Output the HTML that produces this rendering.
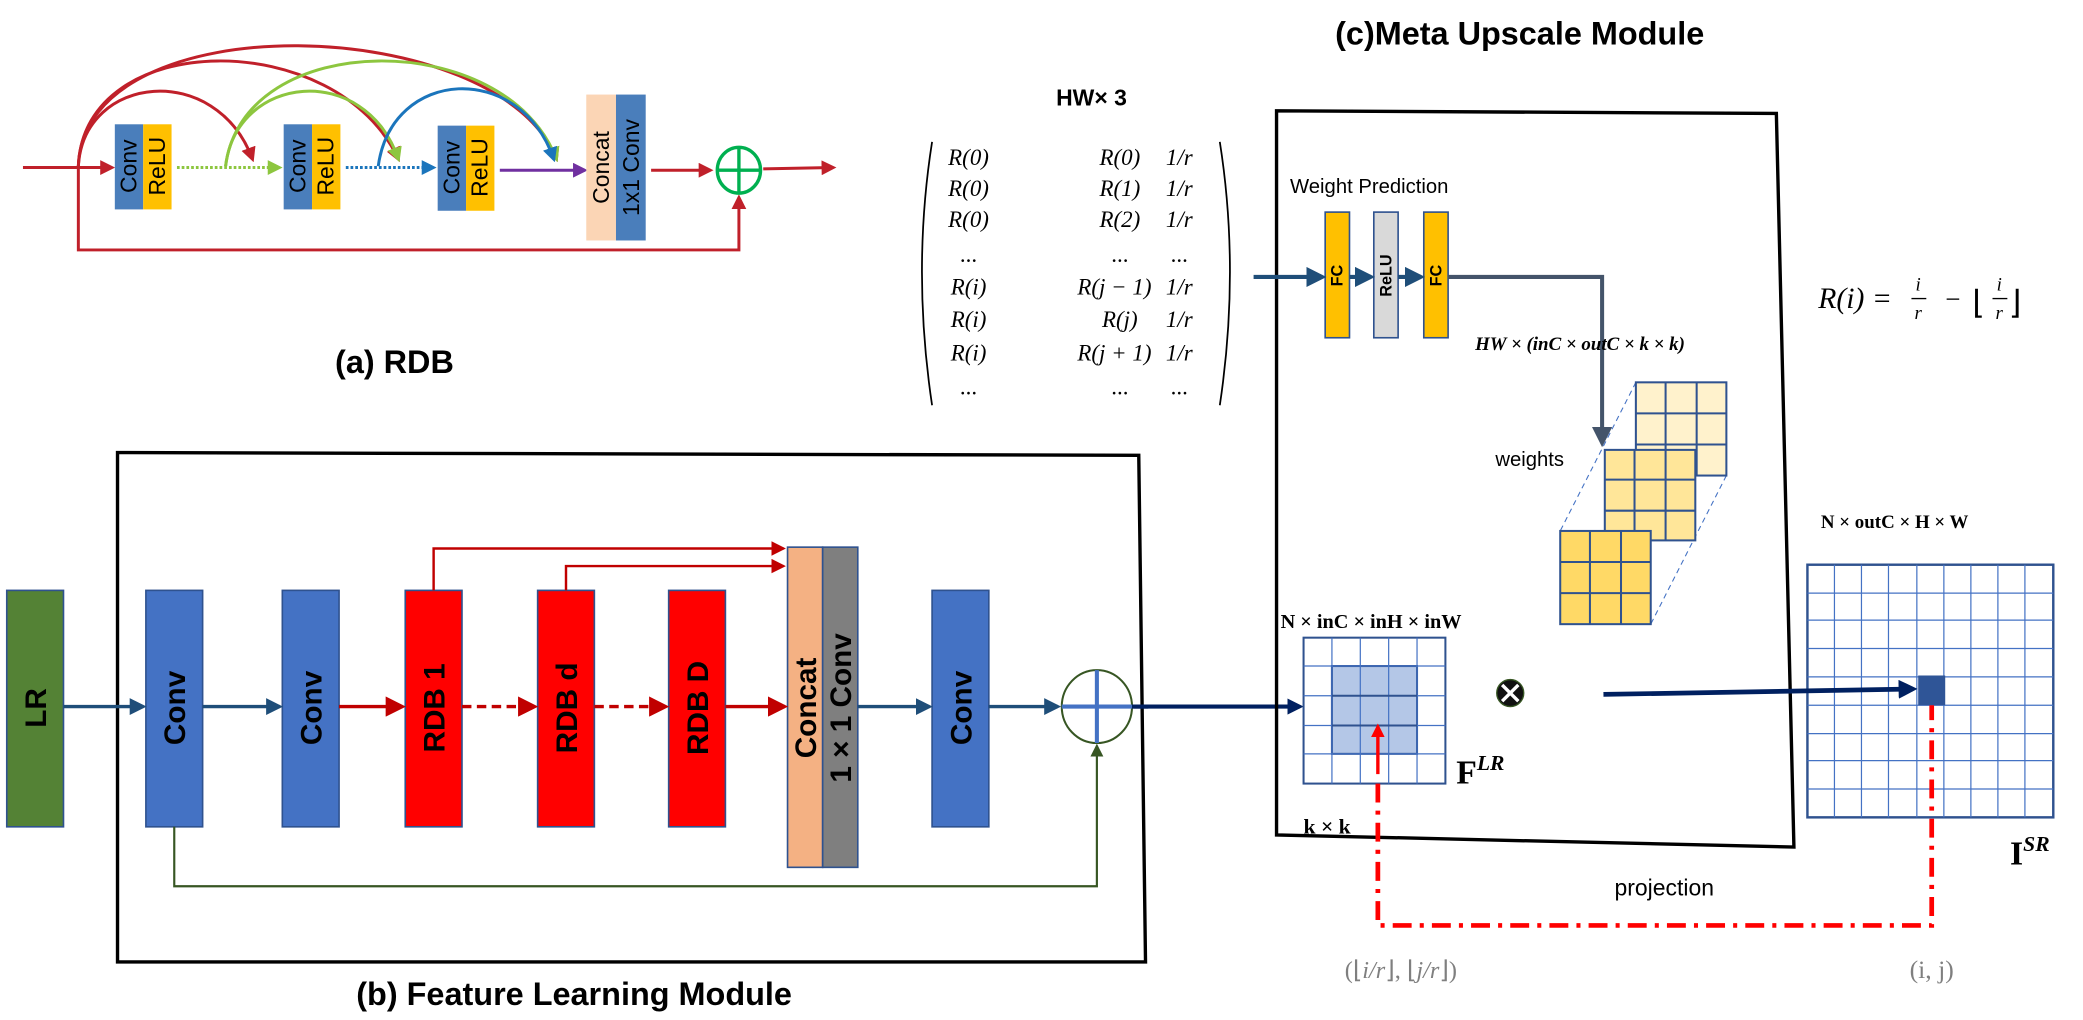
<!DOCTYPE html>
<html><head><meta charset="utf-8"><style>
html,body{margin:0;padding:0;background:#fff;}
svg{display:block;}
text{font-family:"Liberation Sans",sans-serif;}
.s,.s text,.s tspan{font-family:"Liberation Serif",serif;}
</style></head><body>
<svg width="2083" height="1020" viewBox="0 0 1542 755" preserveAspectRatio="none" xmlns="http://www.w3.org/2000/svg">
<defs>
<marker id="ar" markerWidth="6" markerHeight="6" refX="5" refY="3" orient="auto" markerUnits="strokeWidth"><path d="M0,0L6,3L0,6z" fill="#c00000"/></marker>
<marker id="ar2" markerWidth="5" markerHeight="5" refX="4" refY="2.5" orient="auto" markerUnits="strokeWidth"><path d="M0,0L5,2.5L0,5z" fill="#c0202a"/></marker>
<marker id="ag" markerWidth="5" markerHeight="5" refX="4" refY="2.5" orient="auto" markerUnits="strokeWidth"><path d="M0,0L5,2.5L0,5z" fill="#8dc63f"/></marker>
<marker id="ab" markerWidth="5" markerHeight="5" refX="4" refY="2.5" orient="auto" markerUnits="strokeWidth"><path d="M0,0L5,2.5L0,5z" fill="#1b75bc"/></marker>
<marker id="ap" markerWidth="5" markerHeight="5" refX="4" refY="2.5" orient="auto" markerUnits="strokeWidth"><path d="M0,0L5,2.5L0,5z" fill="#7030a0"/></marker>
<marker id="an" markerWidth="5" markerHeight="5" refX="4" refY="2.5" orient="auto" markerUnits="strokeWidth"><path d="M0,0L5,2.5L0,5z" fill="#1f4e79"/></marker>
<marker id="ad" markerWidth="4" markerHeight="4" refX="3" refY="2" orient="auto" markerUnits="strokeWidth"><path d="M0,0L4,2L0,4z" fill="#002060"/></marker>
<marker id="agr" markerWidth="6" markerHeight="6" refX="5" refY="3" orient="auto" markerUnits="strokeWidth"><path d="M0,0L6,3L0,6z" fill="#375623"/></marker>
<marker id="asl" markerWidth="5" markerHeight="5" refX="4" refY="2.5" orient="auto" markerUnits="strokeWidth"><path d="M0,0L5,2.5L0,5z" fill="#44546a"/></marker>
<marker id="arr" markerWidth="4" markerHeight="4" refX="3" refY="2" orient="auto" markerUnits="strokeWidth"><path d="M0,0L4,2L0,4z" fill="#ff0000"/></marker>
</defs>

<!-- (a) RDB -->
<g stroke-width="2.2" fill="none">
<path d="M58 123 C 62 55, 160 45, 187 118" stroke="#c0202a" marker-end="url(#ar2)"/>
<path d="M58 123 C 62 20, 250 20, 295 118" stroke="#c0202a" marker-end="url(#ar2)"/>
<path d="M58 123 C 62 0, 370 10, 412 118" stroke="#c0202a" marker-end="url(#ar2)"/>
<path d="M167 123 C 175 55, 270 45, 295 118" stroke="#8dc63f" marker-end="url(#ag)"/>
<path d="M167 123 C 180 20, 375 20, 412 118" stroke="#8dc63f" marker-end="url(#ag)"/>
<path d="M280 123 C 290 50, 385 45, 410 118" stroke="#1b75bc" marker-end="url(#ab)"/>
<line x1="17" y1="124" x2="83" y2="124" stroke="#c0202a" marker-end="url(#ar2)"/>
<line x1="131" y1="124" x2="207" y2="124" stroke="#8dc63f" stroke-dasharray="2 1.5" marker-end="url(#ag)"/>
<line x1="256" y1="124" x2="321" y2="124" stroke="#1b75bc" stroke-dasharray="2 1.5" marker-end="url(#ab)"/>
<line x1="370" y1="126" x2="433" y2="126" stroke="#7030a0" marker-end="url(#ap)"/>
<line x1="482" y1="126" x2="526" y2="126" stroke="#c0202a" marker-end="url(#ar2)"/>
<line x1="565" y1="125" x2="617" y2="124" stroke="#c0202a" marker-end="url(#ar2)"/>
<polyline points="58,124 58,185 547,185 547,146" stroke="#c0202a" marker-end="url(#ar2)"/>
</g>
<g font-size="17">
<rect x="85" y="92" width="21" height="63" fill="#4a7ebb"/><rect x="106" y="92" width="21" height="63" fill="#ffc000"/>
<rect x="210" y="92" width="21" height="63" fill="#4a7ebb"/><rect x="231" y="92" width="21" height="63" fill="#ffc000"/>
<rect x="324" y="93" width="21" height="63" fill="#4a7ebb"/><rect x="345" y="93" width="21" height="63" fill="#ffc000"/>
<text transform="translate(101,123) rotate(-90)" text-anchor="middle">Conv</text>
<text transform="translate(122,123) rotate(-90)" text-anchor="middle">ReLU</text>
<text transform="translate(226,123) rotate(-90)" text-anchor="middle">Conv</text>
<text transform="translate(247,123) rotate(-90)" text-anchor="middle">ReLU</text>
<text transform="translate(340,124) rotate(-90)" text-anchor="middle">Conv</text>
<text transform="translate(361,124) rotate(-90)" text-anchor="middle">ReLU</text>
<rect x="434" y="70" width="22" height="108" fill="#fbd5b5"/><rect x="456" y="70" width="22" height="108" fill="#4a7ebb"/>
<text transform="translate(451,124) rotate(-90)" text-anchor="middle">Concat</text>
<text transform="translate(473,124) rotate(-90)" text-anchor="middle">1x1 Conv</text>
</g>
<ellipse cx="547" cy="126" rx="16" ry="17" fill="none" stroke="#00b050" stroke-width="2.5"/>
<line x1="531" y1="126" x2="563" y2="126" stroke="#00b050" stroke-width="2.5"/>
<line x1="547" y1="109" x2="547" y2="143" stroke="#00b050" stroke-width="2.5"/>
<text x="292" y="276" font-size="24" font-weight="bold" text-anchor="middle">(a) RDB</text>

<!-- (b) Feature Learning Module -->
<path d="M87 335 L843 337 L848 712 L87 712 Z" fill="none" stroke="#000" stroke-width="2.5"/>
<g stroke="#2f528f" stroke-width="1.2">
<rect x="5" y="437" width="42" height="175" fill="#548235"/>
<rect x="108" y="437" width="42" height="175" fill="#4472c4"/>
<rect x="209" y="437" width="42" height="175" fill="#4472c4"/>
<rect x="300" y="437" width="42" height="175" fill="#ff0000"/>
<rect x="398" y="437" width="42" height="175" fill="#ff0000"/>
<rect x="495" y="437" width="42" height="175" fill="#ff0000"/>
<rect x="583" y="405" width="26" height="237" fill="#f4b183"/>
<rect x="609" y="405" width="26" height="237" fill="#7f7f7f"/>
<rect x="690" y="437" width="42" height="175" fill="#4472c4"/>
</g>
<g font-size="22" font-weight="bold">
<text transform="translate(34,524) rotate(-90)" text-anchor="middle">LR</text>
<text transform="translate(137,524) rotate(-90)" text-anchor="middle">Conv</text>
<text transform="translate(238,524) rotate(-90)" text-anchor="middle">Conv</text>
<text transform="translate(329,524) rotate(-90)" text-anchor="middle">RDB 1</text>
<text transform="translate(427,524) rotate(-90)" text-anchor="middle">RDB d</text>
<text transform="translate(524,524) rotate(-90)" text-anchor="middle">RDB D</text>
<text transform="translate(604,524) rotate(-90)" text-anchor="middle">Concat</text>
<text transform="translate(630,524) rotate(-90)" text-anchor="middle">1 × 1 Conv</text>
<text transform="translate(719,524) rotate(-90)" text-anchor="middle">Conv</text>
</g>
<g stroke-width="2.5" fill="none">
<line x1="47" y1="523" x2="106" y2="523" stroke="#1f4e79" marker-end="url(#an)"/>
<line x1="150" y1="523" x2="207" y2="523" stroke="#1f4e79" marker-end="url(#an)"/>
<line x1="251" y1="523" x2="298" y2="523" stroke="#c00000" marker-end="url(#ar)"/>
<line x1="342" y1="523" x2="396" y2="523" stroke="#c00000" stroke-dasharray="7 4" marker-end="url(#ar)"/>
<line x1="440" y1="523" x2="493" y2="523" stroke="#c00000" stroke-dasharray="7 4" marker-end="url(#ar)"/>
<line x1="537" y1="523" x2="581" y2="523" stroke="#c00000" marker-end="url(#ar)"/>
<line x1="635" y1="523" x2="688" y2="523" stroke="#1f4e79" marker-end="url(#an)"/>
<line x1="732" y1="523" x2="783" y2="523" stroke="#1f4e79" marker-end="url(#an)"/>
<polyline points="321,437 321,406 580,406" stroke="#c00000" stroke-width="1.8" marker-end="url(#ar)"/>
<polyline points="419,437 419,419 580,419" stroke="#c00000" stroke-width="1.8" marker-end="url(#ar)"/>
<polyline points="129,612 129,656 812,656 812,552" stroke="#375623" stroke-width="1.6" marker-end="url(#agr)"/>
<line x1="839" y1="523" x2="962" y2="523" stroke="#002060" stroke-width="3" marker-end="url(#ad)"/>
</g>
<ellipse cx="812" cy="523" rx="26" ry="27" fill="#fff" stroke="#375623" stroke-width="1.5"/>
<line x1="786" y1="523" x2="838" y2="523" stroke="#4472c4" stroke-width="3"/>
<line x1="812" y1="496" x2="812" y2="550" stroke="#4472c4" stroke-width="3"/>
<line x1="838" y1="523" x2="850" y2="523" stroke="#002060" stroke-width="3"/>
<text x="425" y="744" font-size="24" font-weight="bold" text-anchor="middle">(b) Feature Learning  Module</text>

<!-- (c) Meta Upscale -->
<text x="1125" y="33" font-size="24" font-weight="bold" text-anchor="middle">(c)Meta Upscale Module</text>
<text x="808" y="78" font-size="17" font-weight="bold" text-anchor="middle">HW× 3</text>
<path d="M690 105 Q 675 200 690 300" fill="none" stroke="#000" stroke-width="1.3"/>
<path d="M903 105 Q 918 200 903 300" fill="none" stroke="#000" stroke-width="1.3"/>
<g class="s" font-size="17" font-style="italic" text-anchor="middle">
<text x="717" y="122">R(0)</text><text x="829" y="122">R(0)</text><text x="873" y="122">1/r</text>
<text x="717" y="145">R(0)</text><text x="829" y="145">R(1)</text><text x="873" y="145">1/r</text>
<text x="717" y="168">R(0)</text><text x="829" y="168">R(2)</text><text x="873" y="168">1/r</text>
<text x="717" y="194" font-style="normal">...</text><text x="829" y="194" font-style="normal">...</text><text x="873" y="194" font-style="normal">...</text>
<text x="717" y="218">R(i)</text><text x="825" y="218">R(j − 1)</text><text x="873" y="218">1/r</text>
<text x="717" y="242">R(i)</text><text x="829" y="242">R(j)</text><text x="873" y="242">1/r</text>
<text x="717" y="267">R(i)</text><text x="825" y="267">R(j + 1)</text><text x="873" y="267">1/r</text>
<text x="717" y="292" font-style="normal">...</text><text x="829" y="292" font-style="normal">...</text><text x="873" y="292" font-style="normal">...</text>
</g>
<path d="M945 82 L1315 84 L1328 627 L945 618 Z" fill="none" stroke="#000" stroke-width="2.5"/>
<text x="955" y="143" font-size="15">Weight Prediction</text>
<g stroke="#2f528f" stroke-width="1.2">
<rect x="981" y="157" width="18" height="93" fill="#ffc000"/>
<rect x="1017" y="157" width="18" height="93" fill="#d9d9d9"/>
<rect x="1054" y="157" width="18" height="93" fill="#ffc000"/>
</g>
<g font-size="12" font-weight="bold">
<text transform="translate(994,204) rotate(-90)" text-anchor="middle">FC</text>
<text transform="translate(1030,204) rotate(-90)" text-anchor="middle">ReLU</text>
<text transform="translate(1067,204) rotate(-90)" text-anchor="middle">FC</text>
</g>
<g stroke-width="3" fill="none">
<line x1="928" y1="205" x2="979" y2="205" stroke="#1f4e79" marker-end="url(#an)"/>
<line x1="999" y1="205" x2="1015" y2="205" stroke="#1f4e79" marker-end="url(#an)"/>
<line x1="1035" y1="205" x2="1052" y2="205" stroke="#1f4e79" marker-end="url(#an)"/>
<polyline points="1072,205 1186,205 1186,328" stroke="#44546a" marker-end="url(#asl)"/>
</g>
<text x="1092" y="259" class="s" font-size="14" font-weight="bold" font-style="italic">HW × (inC × outC × k × k)</text>
<text x="1107" y="345" font-size="15">weights</text>
<g stroke="#4472c4" stroke-width="0.8" stroke-dasharray="4 3" fill="none">
<line x1="1211" y1="283" x2="1155" y2="393"/><line x1="1278" y1="352" x2="1222" y2="462"/>
</g>
<g stroke="#2f528f" stroke-width="1.5">
<rect x="1211" y="283" width="67" height="69" fill="#fff2cc"/>
<path d="M1233 283V352M1256 283V352M1211 306H1278M1211 329H1278" fill="none"/>
<rect x="1188" y="333" width="67" height="67" fill="#ffe699"/>
<path d="M1210 333V400M1233 333V400M1188 355H1255M1188 378H1255" fill="none"/>
<rect x="1155" y="393" width="67" height="69" fill="#ffd966"/>
<path d="M1177 393V462M1200 393V462M1155 416H1222M1155 439H1222" fill="none"/>
</g>
<text x="948" y="465" class="s" font-size="15" font-weight="bold">N × inC × inH × inW</text>
<rect x="965" y="472" width="105" height="108" fill="#fff" stroke="#2f528f" stroke-width="1.5"/>
<rect x="986" y="493" width="63" height="65" fill="#b4c7e7" stroke="#2f528f" stroke-width="1.5"/>
<path d="M986 472V580M1007 472V580M1028 472V580M1049 472V580M965 493H1070M965 515H1070M965 537H1070M965 558H1070" stroke="#4472c4" stroke-width="0.9" fill="none"/>
<path d="M986 515H1049M986 537H1049" stroke="#2f528f" stroke-width="1.5"/>
<text x="965" y="617" class="s" font-size="16" font-weight="bold">k × k</text>
<text x="1078" y="580" class="s" font-size="25" font-weight="bold">F<tspan font-size="16" font-style="italic" dy="-10">LR</tspan></text>
<circle cx="1118" cy="513" r="10" fill="#111" stroke="#375623" stroke-width="1"/>
<path d="M1112 507L1124 519M1124 507L1112 519" stroke="#fff" stroke-width="2.5"/>
<text x="1348" y="391" class="s" font-size="14" font-weight="bold">N × outC × H × W</text>
<rect x="1338" y="418" width="182" height="187" fill="#fff" stroke="#2f528f" stroke-width="1.8"/>
<path d="M1358 418V605M1378 418V605M1398 418V605M1419 418V605M1439 418V605M1459 418V605M1479 418V605M1499 418V605M1338 439H1520M1338 459H1520M1338 480H1520M1338 501H1520M1338 522H1520M1338 543H1520M1338 563H1520M1338 584H1520" stroke="#4472c4" stroke-width="0.9" fill="none"/>
<rect x="1420" y="500" width="20" height="22" fill="#2f5597"/>
<line x1="1187" y1="514" x2="1416" y2="510" stroke="#002060" stroke-width="3.5" marker-end="url(#ad)"/>
<text x="1488" y="640" class="s" font-size="25" font-weight="bold">I<tspan font-size="16" font-style="italic" dy="-10">SR</tspan></text>
<text x="1346" y="228" class="s" font-size="22" font-style="italic">R(i) =</text>
<text x="1420" y="215" class="s" font-size="14" font-style="italic" text-anchor="middle">i</text>
<line x1="1415" y1="221" x2="1426" y2="221" stroke="#000"/>
<text x="1420" y="236" class="s" font-size="14" font-style="italic" text-anchor="middle">r</text>
<text x="1440" y="228" class="s" font-size="20">−</text>
<text x="1460" y="232" class="s" font-size="24">⌊</text>
<text x="1480" y="215" class="s" font-size="14" font-style="italic" text-anchor="middle">i</text>
<line x1="1475" y1="221" x2="1486" y2="221" stroke="#000"/>
<text x="1480" y="236" class="s" font-size="14" font-style="italic" text-anchor="middle">r</text>
<text x="1487" y="232" class="s" font-size="24">⌋</text>
<!-- projection -->
<line x1="1020" y1="573" x2="1020" y2="538" stroke="#ff0000" stroke-width="2.5" marker-end="url(#arr)"/>
<polyline points="1020,580 1020,685 1430,685 1430,522" fill="none" stroke="#ff0000" stroke-width="3.5" stroke-dasharray="14 6 3 6"/>
<text x="1232" y="663" font-size="17" text-anchor="middle">projection</text>
<text x="1037" y="724" class="s" font-size="18" fill="#7f7f7f" text-anchor="middle">(⌊<tspan font-style="italic">i/r</tspan>⌋, ⌊<tspan font-style="italic">j/r</tspan>⌋)</text>
<text x="1430" y="724" class="s" font-size="19" fill="#7f7f7f" text-anchor="middle">(i, j)</text>
</svg>
</body></html>
